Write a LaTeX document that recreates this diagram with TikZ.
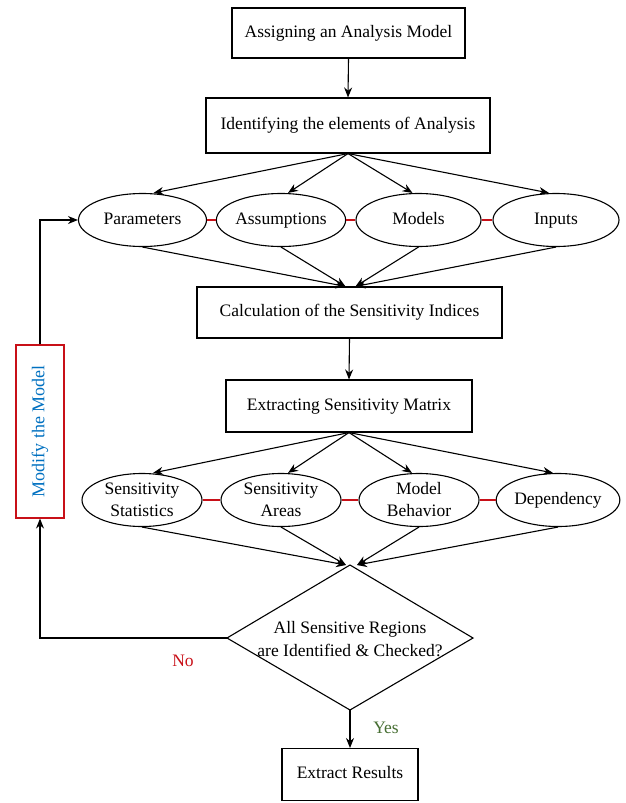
\documentclass[tikz,border=0pt]{standalone}
\usepackage{fontspec}
\setmainfont{Liberation Serif}
\usetikzlibrary{arrows.meta,shapes.geometric,calc}
\definecolor{myred}{RGB}{200,16,24}
\definecolor{myblue}{RGB}{0,112,192}
\definecolor{mygreen}{RGB}{70,110,50}
\begin{document}
\begin{tikzpicture}[x=1pt,y=-1pt,
  font=\fontsize{17.5}{21}\selectfont,
  box/.style={draw,line width=1.1pt,minimum width=#1,inner sep=0pt,text height=12.5pt,text depth=4pt},
  ell/.style={draw,ellipse,line width=1.1pt,minimum height=53,minimum width=#1,inner sep=0pt,align=center,font=\fontsize{17.5}{22}\selectfont},
  one/.style={text height=12.5pt,text depth=4pt},
  arr/.style={-{Stealth[length=10pt,width=8pt]},line width=1.1pt},
  link/.style={myred,line width=1.1pt}]
\useasboundingbox (0,0) rectangle (625,803);
% boxes
\node[box=233,minimum height=50] (b1) at (348.5,33) {Assigning an Analysis Model};
\node[box=284,minimum height=55] (b2) at (348,125.5) {Identifying the elements of Analysis};
\node[ell=128,one] (p) at (142.5,220) {Parameters};
\node[ell=128,one] (a) at (281,220) {Assumptions};
\node[ell=125,one] (m) at (418.5,220) {Models};
\node[ell=126,one] (i) at (556,220) {Inputs};
\node[box=305,minimum height=51] (b3) at (349.5,312.5) {Calculation of the Sensitivity Indices};
\node[box=246,minimum height=52] (b4) at (349,406) {Extracting Sensitivity Matrix};
\node[ell=120] (s1) at (142,500) {Sensitivity\\Statistics};
\node[ell=120] (s2) at (281,500) {Sensitivity\\Areas};
\node[ell=120] (s3) at (419,500) {Model\\Behavior};
\node[ell=118,one] (s4) at (558,500) {Dependency};
% decision
\coordinate (dt) at (350,565);
\coordinate (dl) at (227,638);
\coordinate (dr) at (473,638);
\coordinate (db) at (350,710);
\draw[line width=1.1pt] (dt) -- (dr) -- (db) -- (dl) -- cycle;
\node[align=center,font=\fontsize{17.5}{23}\selectfont] (dec) at (350,639) {All Sensitive Regions\\are Identified \& Checked?};
\node[box=136,minimum height=52,anchor=north] (b5) at (350,748) {Extract Results};
\node[draw=myred,line width=1.1pt,minimum width=48,minimum height=173,inner sep=0pt] (mod) at (40,431.5) {};
\node[rotate=90,text=myblue,font=\fontsize{18}{21}\selectfont,one] (modt) at (40,431.5) {Modify the Model};
\node[text=mygreen] (yes) at (386,728) {Yes};
\node[text=myred] (no) at (183,661) {No};
\coordinate (c1) at (40,638);
\coordinate (c2) at (40,220);
% connectors
\draw[arr] (b1.south) -- (b2.north);
\draw[arr] (b2.south) -- ([xshift=11pt]p.north);
\draw[arr] (b2.south) -- ([xshift=7pt]a.north);
\draw[arr] (b2.south) -- ([xshift=-6pt]m.north);
\draw[arr] (b2.south) -- ([xshift=-7pt]i.north);
\draw[link] (p.east) -- (a.west);
\draw[link] (a.east) -- (m.west);
\draw[link] (m.east) -- (i.west);
\draw[arr] (p.south) -- ([xshift=-4pt]b3.north);
\draw[arr] (a.south) -- ([xshift=-4pt]b3.north);
\draw[arr] (m.south) -- ([xshift=6pt]b3.north);
\draw[arr] (i.south) -- ([xshift=6pt]b3.north);
\draw[arr] (b3.south) -- (b4.north);
\draw[arr] (b4.south) -- ([xshift=11pt]s1.north);
\draw[arr] (b4.south) -- ([xshift=7pt]s2.north);
\draw[arr] (b4.south) -- ([xshift=-7pt]s3.north);
\draw[arr] (b4.south) -- ([xshift=-5pt]s4.north);
\draw[link] (s1.east) -- (s2.west);
\draw[link] (s2.east) -- (s3.west);
\draw[link] (s3.east) -- (s4.west);
\draw[arr] (s1.south) -- ([xshift=-4pt]dt);
\draw[arr] (s2.south) -- ([xshift=-4pt]dt);
\draw[arr] (s3.south) -- ([xshift=7pt]dt);
\draw[arr] (s4.south) -- ([xshift=7pt]dt);
\draw[arr] (db) -- (b5.north);
\draw[arr] (dl) -- (c1) -- (mod.south);
\draw[arr] (mod.north) -- (c2) -- (p.west);
\end{tikzpicture}
\end{document}
